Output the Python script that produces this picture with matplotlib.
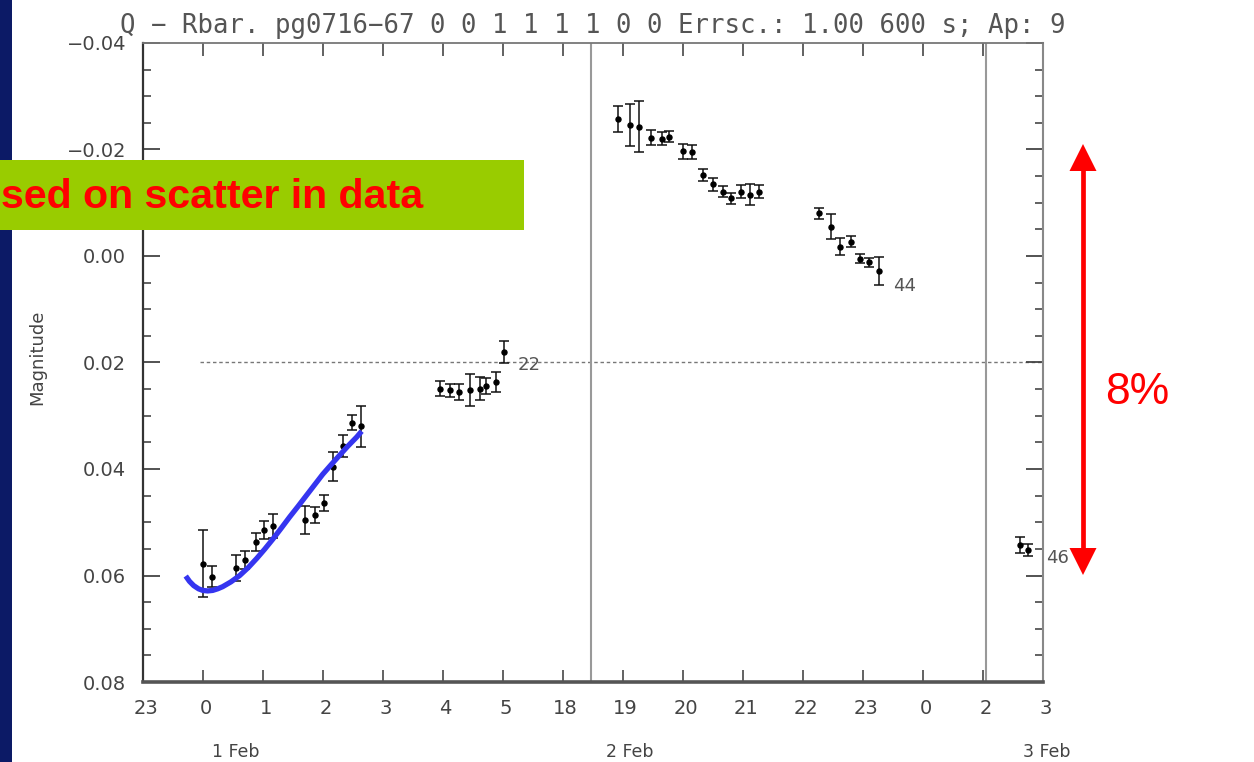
import matplotlib
matplotlib.use('Agg')
import matplotlib.pyplot as plt
from matplotlib.patches import Rectangle, Polygon
from matplotlib.lines import Line2D
import matplotlib.transforms as mtransforms
from matplotlib.ticker import MultipleLocator

# ---------------- data ----------------
tick_labels = ['23', '0', '1', '2', '3', '4', '5', '18', '19', '20', '21', '22', '23', '0', '2', '3']
ytick_vals = [-0.04, -0.02, 0.00, 0.02, 0.04, 0.06, 0.08]
ytick_labels = ['\u22120.04', '\u22120.02', '0.00', '0.02', '0.04', '0.06', '0.08']

g1_x = [1.00, 1.16, 1.56, 1.70, 1.89, 2.02, 2.17, 2.70, 2.87, 3.03, 3.17, 3.34, 3.49, 3.64]
g1_y = [0.0578, 0.0602, 0.0586, 0.0571, 0.0537, 0.0515, 0.0507, 0.0496, 0.0486, 0.0464, 0.0396, 0.0357, 0.0313, 0.0320]
g1_e = [0.0063, 0.0020, 0.0025, 0.0017, 0.0017, 0.0017, 0.0022, 0.0027, 0.0015, 0.0015, 0.0027, 0.0020, 0.0014, 0.0038]

g2_x = [4.95, 5.12, 5.28, 5.45, 5.62, 5.73, 5.89, 6.03]
g2_y = [0.0249, 0.0252, 0.0255, 0.0252, 0.0249, 0.0245, 0.0236, 0.0180]
g2_e = [0.0014, 0.0012, 0.0015, 0.0030, 0.0022, 0.0015, 0.0019, 0.0021]

g3_x = [7.93, 8.12, 8.28, 8.48, 8.65, 8.78, 9.00, 9.16, 9.34, 9.50, 9.67, 9.81, 9.98, 10.12, 10.28]
g3_y = [-0.0257, -0.0246, -0.0243, -0.0222, -0.0220, -0.0224, -0.0197, -0.0195, -0.0152, -0.0135,
        -0.0121, -0.0108, -0.0121, -0.0115, -0.0121]
g3_e = [0.0025, 0.0040, 0.0048, 0.0014, 0.0012, 0.0010, 0.0014, 0.0013, 0.0012, 0.0012,
        0.0011, 0.0010, 0.0012, 0.0020, 0.0012]

g4_x = [11.28, 11.48, 11.62, 11.80, 11.95, 12.10, 12.28]
g4_y = [-0.0080, -0.0055, -0.0017, -0.0027, 0.0005, 0.0012, 0.0028]
g4_e = [0.0011, 0.0023, 0.0016, 0.0011, 0.0008, 0.0008, 0.0027]

g5_x = [14.62, 14.76]
g5_y = [0.0543, 0.0552]
g5_e = [0.0015, 0.0012]

point_labels = ['22', '44', '46']
point_label_x = [6.25, 12.5, 15.05]
point_label_y = [0.0205, 0.0057, 0.0567]

ref_level = 0.02
vline_x = [7.47, 14.05]

date_labels = ['1 Feb', '2 Feb', '3 Feb']
date_x = [1.555, 8.12, 15.07]

blue_x = [0.717, 0.78, 0.85, 0.93, 1.0, 1.083, 1.167, 1.25, 1.333, 1.47, 1.617, 1.76, 1.9,
          2.03, 2.167, 2.31, 2.45, 2.59, 2.733, 2.87, 3.0, 3.14, 3.283, 3.42, 3.567, 3.65]
blue_y = [0.0601, 0.0611, 0.0619, 0.0625, 0.0628, 0.0629, 0.0628, 0.0625, 0.0621, 0.0612,
          0.0600, 0.0585, 0.0568, 0.0551, 0.0532, 0.0511, 0.0490, 0.0470, 0.0449, 0.0429,
          0.0410, 0.0392, 0.0374, 0.0357, 0.0340, 0.0329]

title_text = 'Q \u2212 Rbar. pg0716\u221267 0 0 1 1 1 1 0 0 Errsc.: 1.00 600 s; Ap: 9'
banner_text = 'sed on scatter in data'
arrow_text = '8%'

# ---------------- figure ----------------
W, H = 1254, 762
fig = plt.figure(figsize=(W / 100, H / 100), dpi=100)
fig.patch.set_facecolor('white')

# dark slide strip on the left
fig.add_artist(Rectangle((0, 0), 12 / W, 1, transform=fig.transFigure,
                         facecolor='#0c1a66', edgecolor='none', zorder=0))

ax = fig.add_axes([142.7 / W, 1 - 682 / H, 900 / W, (682 - 43) / H])
ax.set_xlim(0, 15)
ax.set_ylim(0.08, -0.04)

txt_col = '#444444'
ax.set_xticks(range(len(tick_labels)))
ax.set_xticklabels(tick_labels, fontsize=14, color=txt_col)
ax.set_yticks(ytick_vals)
ax.set_yticklabels(ytick_labels, fontsize=14, color=txt_col)
ax.yaxis.set_minor_locator(MultipleLocator(0.005))
ax.tick_params(axis='x', which='major', direction='in', length=9, width=1.3,
               top=True, color='#555555', pad=12)
ax.tick_params(axis='y', which='major', direction='in', length=12.5, width=1.3,
               right=True, color='#444444', pad=12)
ax.tick_params(axis='y', which='minor', direction='in', length=6, width=1.3,
               right=True, color='#555555')
shift = mtransforms.ScaledTranslation(3 / 100, 0, fig.dpi_scale_trans)
for lbl in ax.get_xticklabels():
    lbl.set_transform(lbl.get_transform() + shift)

ax.spines['left'].set_color('#333333')
ax.spines['left'].set_linewidth(1.6)
ax.spines['bottom'].set_color('#555555')
ax.spines['bottom'].set_linewidth(2.6)
ax.spines['top'].set_color('#777777')
ax.spines['top'].set_linewidth(1.3)
ax.spines['right'].set_color('#888888')
ax.spines['right'].set_linewidth(1.5)

ax.set_ylabel('Magnitude', fontsize=13, color=txt_col)
ax.yaxis.set_label_coords((46 - 142.7) / 900, (682 - 357) / 639)

ax.set_title(title_text, fontsize=18.5, color='#555555', pad=7, family='DejaVu Sans Mono')

# reference lines
ax.plot([0.95, 15], [ref_level, ref_level], color='#777777', lw=1.0,
        linestyle=(0, (2.5, 2)), zorder=1)
for vx in vline_x:
    ax.axvline(vx, color='#999999', lw=1.5, zorder=1)

# data
for xs, ys, es in [(g1_x, g1_y, g1_e), (g2_x, g2_y, g2_e), (g3_x, g3_y, g3_e),
                   (g4_x, g4_y, g4_e), (g5_x, g5_y, g5_e)]:
    ax.errorbar(xs, ys, yerr=es, fmt='o', color='black', ecolor='#111111',
                markersize=3.6, elinewidth=1.1, capsize=3.4, capthick=1.1, zorder=3)

for lab, lx, ly in zip(point_labels, point_label_x, point_label_y):
    ax.text(lx, ly, lab, fontsize=13, color='#555555', ha='left', va='center', clip_on=False)

trans = mtransforms.blended_transform_factory(ax.transData, ax.transAxes)
for lab, dx in zip(date_labels, date_x):
    ax.text(dx, -0.109, lab, transform=trans, fontsize=12.5, color=txt_col,
            ha='center', va='center')

# blue annotation curve
ax.plot(blue_x, blue_y, color='#3535f0', lw=3.8, solid_capstyle='butt',
        solid_joinstyle='round', zorder=4)

# green banner
fig.add_artist(Rectangle((0, 1 - 230 / H), 524 / W, 70 / H, transform=fig.transFigure,
                         facecolor='#99cc00', edgecolor='none', zorder=5))
fig.text(1 / W, 1 - 197 / H, banner_text, fontsize=29.6, fontweight='bold',
         family='Liberation Sans', color='#ff0000', ha='left', va='center', zorder=6)

# red double arrow
ax_x = 1083
top_tip, bot_tip = 144, 575
hl, hw = 27, 13.5
def fp(px, py):
    return (px / W, 1 - py / H)
fig.add_artist(Line2D([ax_x / W, ax_x / W], [1 - (top_tip + hl - 2) / H, 1 - (bot_tip - hl + 2) / H],
                      transform=fig.transFigure, color='#ff0000', lw=3.4, zorder=6))
fig.add_artist(Polygon([fp(ax_x, top_tip), fp(ax_x - hw, top_tip + hl), fp(ax_x + hw, top_tip + hl)],
                       closed=True, transform=fig.transFigure, facecolor='#ff0000',
                       edgecolor='none', zorder=6))
fig.add_artist(Polygon([fp(ax_x, bot_tip), fp(ax_x - hw, bot_tip - hl), fp(ax_x + hw, bot_tip - hl)],
                       closed=True, transform=fig.transFigure, facecolor='#ff0000',
                       edgecolor='none', zorder=6))
fig.text(1137 / W, 1 - 392 / H, arrow_text, fontsize=32, family='Liberation Sans',
         color='#ff0000', ha='center', va='center', zorder=6)

fig.savefig('out.png', dpi=100)
